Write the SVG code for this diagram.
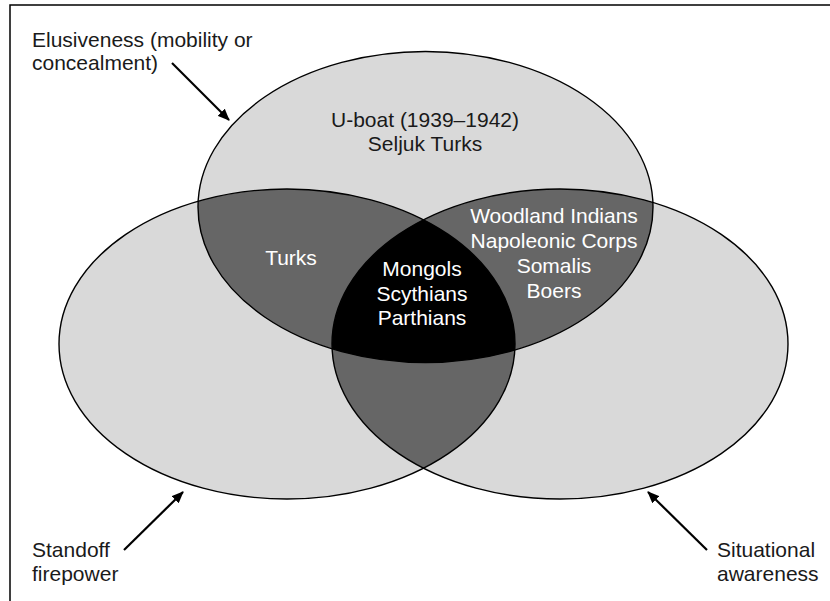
<svg xmlns="http://www.w3.org/2000/svg" width="830" height="601" viewBox="0 0 830 601">
  <style>
    text { font-family: "Liberation Sans", Arial, sans-serif; font-size: 21px; }
    .dk { fill: #1a1a1a; }
    .wt { fill: #ffffff; }
    .mid { text-anchor: middle; }
    .outline { fill: none; stroke: #000; stroke-width: 1.4; }
    .arrow { stroke: #000; stroke-width: 2.2; fill: none; marker-end: url(#ah); }
  </style>
  <defs>
    <marker id="ah" viewBox="0 0 12 10" refX="11" refY="5" markerWidth="12" markerHeight="10" markerUnits="userSpaceOnUse" orient="auto">
      <path d="M0,0 L12,5 L0,10 Z" fill="#000"/>
    </marker>
    <ellipse id="eTop" cx="425.5" cy="207" rx="227.5" ry="155.5"/>
    <ellipse id="eLeft" cx="287" cy="344" rx="228" ry="155"/>
    <ellipse id="eRight" cx="560" cy="344" rx="228" ry="155"/>
    <clipPath id="cTop"><use href="#eTop"/></clipPath>
    <clipPath id="cLeft"><use href="#eLeft"/></clipPath>
    <clipPath id="cRight"><use href="#eRight"/></clipPath>
  </defs>

  <rect x="0" y="0" width="830" height="601" fill="#fff"/>
  <rect x="10" y="5" width="840" height="620" fill="none" stroke="#000" stroke-width="1.5"/>

  <g id="fills">
    <use href="#eTop" fill="#d9d9d9"/>
    <use href="#eLeft" fill="#d9d9d9"/>
    <use href="#eRight" fill="#d9d9d9"/>
    <g clip-path="url(#cTop)">
      <use href="#eLeft" fill="#666666"/>
      <use href="#eRight" fill="#666666"/>
    </g>
    <g clip-path="url(#cLeft)">
      <use href="#eRight" fill="#666666"/>
      <g clip-path="url(#cTop)">
        <use href="#eRight" fill="#000000"/>
      </g>
    </g>
  </g>

  <g id="node-elusiveness">
    <use href="#eTop" class="outline"/>
    <text class="dk mid" x="425" y="127">U-boat (1939–1942)</text>
    <text class="dk mid" x="425" y="150.5">Seljuk Turks</text>
  </g>
  <g id="node-standoff">
    <use href="#eLeft" class="outline"/>
  </g>
  <g id="node-situational">
    <use href="#eRight" class="outline"/>
  </g>

  <g id="region-turks">
    <text class="wt mid" x="291" y="265">Turks</text>
  </g>
  <g id="region-center">
    <text class="wt mid" x="422" y="276">Mongols</text>
    <text class="wt mid" x="422" y="300.5">Scythians</text>
    <text class="wt mid" x="422" y="325">Parthians</text>
  </g>
  <g id="region-right">
    <text class="wt mid" x="554" y="222.5">Woodland Indians</text>
    <text class="wt mid" x="554" y="248">Napoleonic Corps</text>
    <text class="wt mid" x="554" y="273">Somalis</text>
    <text class="wt mid" x="554" y="298">Boers</text>
  </g>

  <g id="label-elusiveness">
    <text class="dk" x="32" y="46.5">Elusiveness (mobility or</text>
    <text class="dk" x="32" y="70">concealment)</text>
  </g>
  <g id="label-standoff">
    <text class="dk" x="32" y="557">Standoff</text>
    <text class="dk" x="32" y="580.5">firepower</text>
  </g>
  <g id="label-situational">
    <text class="dk" x="717" y="557">Situational</text>
    <text class="dk" x="717" y="580.5">awareness</text>
  </g>

  <g id="connectors">
    <line class="arrow" x1="172" y1="63" x2="229" y2="120"/>
    <line class="arrow" x1="124" y1="550" x2="183" y2="492"/>
    <line class="arrow" x1="707" y1="550" x2="648" y2="492"/>
  </g>
</svg>
